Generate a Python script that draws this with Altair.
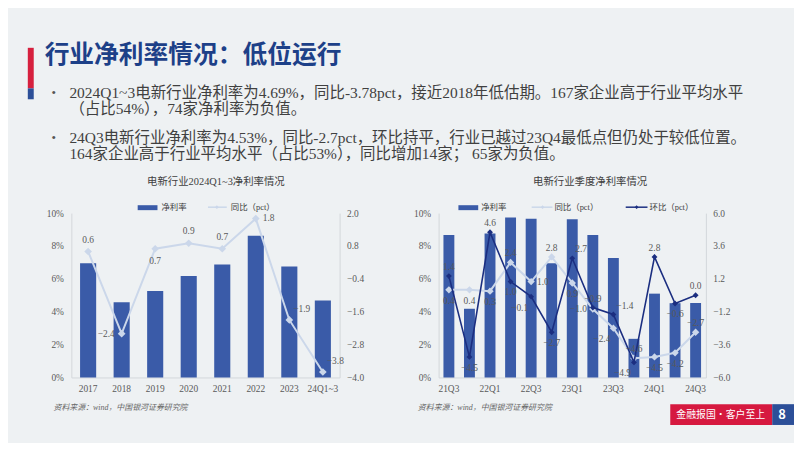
import altair as alt
import pandas as pd

# ---------------- data ----------------
years = ["2017", "2018", "2019", "2020", "2021", "2022", "2023", "24Q1~3"]
annual_margin = [6.95, 4.58, 5.26, 6.18, 6.87, 8.63, 6.75, 4.69]
annual_yoy = [0.6, -2.4, 0.7, 0.9, 0.7, 1.8, -1.9, -3.8]

quarters = ["21Q3", "21Q4", "22Q1", "22Q2", "22Q3", "22Q4", "23Q1",
            "23Q2", "23Q3", "23Q4", "24Q1", "24Q2", "24Q3"]
q_margin = [8.67, 4.18, 8.76, 9.74, 9.66, 6.95, 9.62, 8.67, 7.27, 2.35, 5.10, 4.52, 4.53]
q_yoy = [0.4, 0.4, 0.3, 2.4, 1.0, 2.8, 0.9, -1.0, -2.4, -4.6, -4.5, -4.2, -2.7]
q_qoq = [1.4, -4.5, 4.6, 1.0, -0.1, -2.7, 2.7, -0.9, -1.4, -4.9, 2.8, -0.6, 0.0]

pct_ticks = [0, 2, 4, 6, 8, 10]
annual_pct_ticks = [-4.0, -2.8, -1.6, -0.4, 0.8, 2.0]
q_pct_ticks = [-6.0, -3.6, -1.2, 1.2, 3.6, 6.0]
q_label_ticks = ["21Q3", "22Q1", "22Q3", "23Q1", "23Q3", "24Q1", "24Q3"]

# label placement (style only)
annual_yoy_place = ["above", "left", "below", "above", "above", "right", "aboveright", "aboveright"]
q_qoq_place = ["above", "below", "above", "below", "belowleft", "below", "aboveright",
               "above", "aboveright", "belowleft", "above", "below", "above"]
q_yoy_place = ["below", "below", "below", "above", "right", "above", "below",
               "left", "belowleft", "above", "below", "below", "above"]

title_text = "行业净利率情况：低位运行"
bullet1 = ["2024Q1~3电新行业净利率为4.69%，同比-3.78pct，接近2018年低估期。167家企业高于行业平均水平",
           "（占比54%），74家净利率为负值。"]
bullet2 = ["24Q3电新行业净利率为4.53%，同比-2.7pct，环比持平，行业已越过23Q4最低点但仍处于较低位置。",
           "164家企业高于行业平均水平（占比53%），同比增加14家； 65家为负值。"]
left_title = "电新行业2024Q1~3净利率情况"
right_title = "电新行业季度净利率情况"
source_text = "资料来源：wind，中国银河证券研究院"
footer_text = "金融报国·客户至上"
page_no = "8"

# ---------------- style ----------------
W, H = 794, 435
BG = "#eef1f3"
BAR = "#3a5ba8"
LIGHT = "#cbd7ea"
DARK = "#1b2e80"
AXC = "#d3d7db"
LAB = "#595959"
SERIF = "Liberation Serif, Noto Sans CJK SC"
SANS = "Noto Sans CJK SC"

dfA = pd.DataFrame({"cat": years, "margin": annual_margin, "yoy": annual_yoy,
                    "p_yoy": annual_yoy_place})
dfQ = pd.DataFrame({"cat": quarters, "margin": q_margin, "yoy": q_yoy, "qoq": q_qoq,
                    "p_yoy": q_yoy_place, "p_qoq": q_qoq_place})

axis_common = dict(title=None, ticks=False, grid=False, domainColor=AXC,
                   labelColor=LAB, labelFont=SERIF, labelFontSize=9.5)

OFFS_A = {"above": (0, -12, "center"), "below": (0, 12, "center"),
          "left": (-7, 0, "right"), "right": (7, -1, "left"),
          "aboveright": (4, -11, "left"), "belowleft": (-4, 11, "right")}
OFFS_Q = {"above": (0, -9, "center"), "below": (0, 11, "center"),
          "left": (-6, 0, "right"), "right": (6, 0, "left"),
          "aboveright": (3, -9, "left"), "belowleft": (-3, 11, "right")}


def labels(df, field, place_col, xenc, yscale, yaxis, offs):
    layers = []
    for place in sorted(set(df[place_col])):
        dx, dy, al = offs[place]
        layers.append(
            alt.Chart(df).transform_filter(alt.datum[place_col] == place).mark_text(
                dx=dx, dy=dy, align=al, baseline="middle", fontSize=9.5,
                color=LAB, font=SERIF).encode(
                x=xenc, y=alt.Y(f"{field}:Q", scale=yscale, axis=yaxis),
                text=alt.Text(f"{field}:Q", format=".1f")))
    return layers


# ---------------- left chart ----------------
xA = alt.Scale(type="band", domain=years, range=[64, 335], paddingInner=0.52, paddingOuter=0.26)
yA = alt.Scale(domain=[0, 10], range=[371, 205], nice=False, zero=True)
yA2 = alt.Scale(domain=[-4, 2], range=[371, 205], nice=False, zero=False)
xAxisA = alt.Axis(orient="bottom", offset=-64, labelAngle=0, labelPadding=6, **axis_common)
yAxisA = alt.Axis(orient="left", offset=-64, values=pct_ticks, labelExpr="datum.value + '%'",
                  labelPadding=8, **axis_common)
yAxisA2 = alt.Axis(orient="right", offset=-459, values=annual_pct_ticks, format=".1f",
                   labelPadding=7, **axis_common)

barsA = alt.Chart(dfA).mark_bar(color=BAR).encode(
    x=alt.X("cat:N", scale=xA, axis=xAxisA, sort=None),
    y=alt.Y("margin:Q", scale=yA, axis=yAxisA),
)
xLineA = alt.X("cat:N", scale=xA, axis=xAxisA, sort=None, bandPosition=0.5)
lineA = alt.Chart(dfA).mark_line(
    color=LIGHT, strokeWidth=2,
    point=alt.OverlayMarkDef(shape="diamond", filled=True, color=LIGHT, size=60),
).encode(x=xLineA, y=alt.Y("yoy:Q", scale=yA2, axis=yAxisA2))
labA = labels(dfA, "yoy", "p_yoy", xLineA, yA2, yAxisA2, OFFS_A)
left = alt.layer(barsA, alt.layer(lineA, *labA)).resolve_scale(y="independent")

# ---------------- right chart ----------------
xQ = alt.Scale(type="band", domain=quarters, range=[435, 705], paddingInner=0.47, paddingOuter=0.235)
yQ = alt.Scale(domain=[0, 10], range=[371, 205], nice=False, zero=True)
yQ2 = alt.Scale(domain=[-6, 6], range=[371, 205], nice=False, zero=False)
xAxisQ = alt.Axis(orient="bottom", offset=-64, labelAngle=0, labelPadding=6,
                  values=q_label_ticks, **axis_common)
yAxisQ = alt.Axis(orient="left", offset=-435, values=pct_ticks, labelExpr="datum.value + '%'",
                  labelPadding=8, **axis_common)
yAxisQ2 = alt.Axis(orient="right", offset=-89, values=q_pct_ticks, format=".1f",
                   labelPadding=7, **axis_common)

barsQ = alt.Chart(dfQ).mark_bar(color=BAR).encode(
    x=alt.X("cat:N", scale=xQ, axis=xAxisQ, sort=None),
    y=alt.Y("margin:Q", scale=yQ, axis=yAxisQ),
)
xLineQ = alt.X("cat:N", scale=xQ, axis=xAxisQ, sort=None, bandPosition=0.5)
yoyQ = alt.Chart(dfQ).mark_line(
    color=LIGHT, strokeWidth=2,
    point=alt.OverlayMarkDef(shape="diamond", filled=True, color=LIGHT, size=55),
).encode(x=xLineQ, y=alt.Y("yoy:Q", scale=yQ2, axis=yAxisQ2))
qoqQ = alt.Chart(dfQ).mark_line(
    color=DARK, strokeWidth=1.6,
    point=alt.OverlayMarkDef(shape="diamond", filled=True, color=DARK, size=35),
).encode(x=xLineQ, y=alt.Y("qoq:Q", scale=yQ2, axis=yAxisQ2))
labQ = (labels(dfQ, "yoy", "p_yoy", xLineQ, yQ2, yAxisQ2, OFFS_Q)
        + labels(dfQ, "qoq", "p_qoq", xLineQ, yQ2, yAxisQ2, OFFS_Q))
right = alt.layer(barsQ, alt.layer(yoyQ, qoqQ, *labQ)).resolve_scale(y="independent")

# ---------------- decorations ----------------
dummy = pd.DataFrame({"d": [0]})


def txt(s, x, y, size, color="#404040", font=SERIF, weight="normal", align="left",
        italic=False):
    kw = dict(text=s, fontSize=size, color=color, font=font, fontWeight=weight,
              align=align, baseline="middle")
    if italic:
        kw["fontStyle"] = "italic"
    return alt.Chart(dummy).mark_text(**kw).encode(x=alt.value(x), y=alt.value(y))


def box(x1, x2, y1, y2, color):
    return alt.Chart(dummy).mark_rect(color=color).encode(
        x=alt.value(x1), x2=alt.value(x2), y=alt.value(y1), y2=alt.value(y2))


def hline(x1, x2, y, color, w):
    return alt.Chart(dummy).mark_rule(color=color, strokeWidth=w).encode(
        x=alt.value(x1), x2=alt.value(x2), y=alt.value(y))


def dot(x, y, color, size):
    return alt.Chart(dummy).mark_point(shape="diamond", filled=True, color=color,
                                       size=size, opacity=1).encode(
        x=alt.value(x), y=alt.value(y))


decor = [
    box(20, 26, 38, 79, "#d6203e"),
    box(20, 26, 79, 90, "#2c4f98"),
    txt(title_text, 37, 45, 25, color="#1d4088", font=SANS, weight="bold"),
    txt("•", 44, 84, 13, color="#555555"),
    txt(bullet1[0], 62, 84, 15.6),
    txt(bullet1[1], 62, 100, 15.6),
    txt("•", 44, 129, 13, color="#555555"),
    txt(bullet2[0], 62, 129, 15.6),
    txt(bullet2[1], 62, 145, 15.6),
    txt(left_title, 210, 174, 10.5, align="center"),
    txt(right_title, 588, 174, 10.5, align="center"),
    # left legend
    box(131, 151, 197, 202, BAR),
    txt("净利率", 155, 199, 8.5),
    hline(202, 221, 199, LIGHT, 1.5),
    dot(211, 199, LIGHT, 14),
    txt("同比（pct）", 225, 199, 8.5),
    # right legend
    box(455, 475, 197, 202, BAR),
    txt("净利率", 478, 199, 8.5),
    hline(529, 550, 199, LIGHT, 1.5),
    dot(540, 199, LIGHT, 14),
    txt("同比（pct）", 552, 199, 8.5),
    hline(624, 646, 199, DARK, 1.5),
    dot(635, 199, DARK, 14),
    txt("环比（pct）", 648, 199, 8.5),
    # sources
    txt(source_text, 46, 402, 8, color="#666666", italic=True),
    txt(source_text, 414, 402, 8, color="#666666", italic=True),
    # footer
    box(669, 772, 398, 419, "#d6193f"),
    box(772, 794, 398, 419, "#2c4f98"),
    txt(footer_text, 720, 408.5, 10, color="white", font=SANS, align="center"),
    txt(page_no, 782, 408.5, 13, color="white", font=SANS, weight="bold", align="center"),
]

chart = alt.layer(left, right, *decor).resolve_scale(
    x="independent", y="independent"
).properties(
    width=W, height=H,
    autosize=alt.AutoSizeParams(type="none"),
    padding=0,
    background=BG,
).configure_view(stroke=None)

chart.save("out.html", embed_options={"renderer": "svg", "actions": False})
